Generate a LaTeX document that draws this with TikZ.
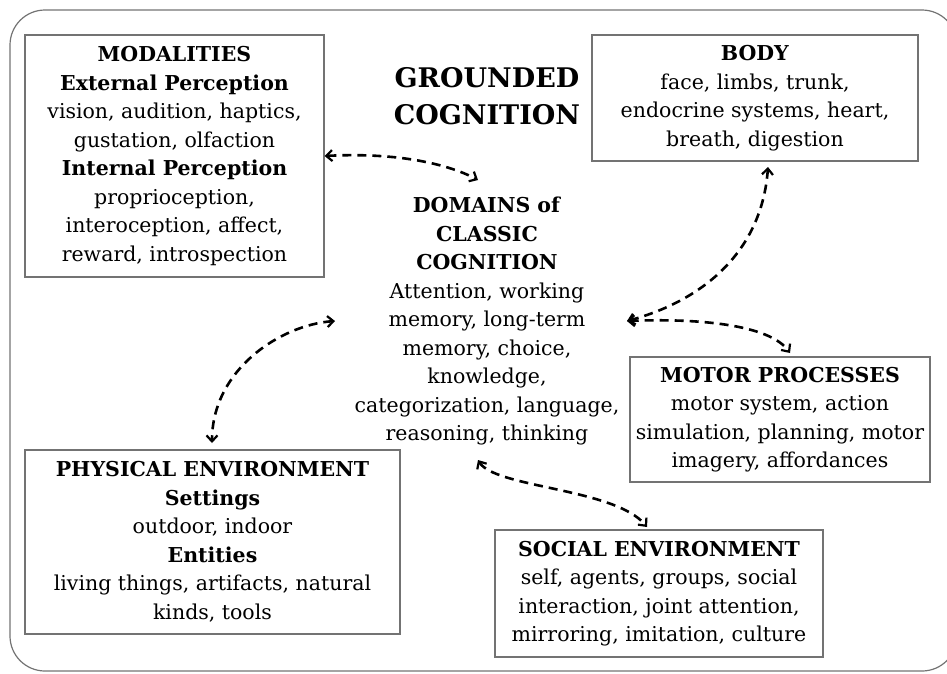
\documentclass[tikz,border=0pt]{standalone}
\usepackage{fontspec}
\setmainfont{DejaVu Serif}
\usetikzlibrary{arrows.meta}
\begin{document}
\begin{tikzpicture}[x=1pt,y=-1pt,
  frame/.style={draw=black!55, line width=1.2pt},
  box/.style={frame, align=center, inner sep=0pt, font=\fontsize{20.5}{28.5}\selectfont},
  txt/.style={align=center, inner sep=0pt, font=\fontsize{20.5}{28.5}\selectfont},
  conn/.style={<->, >={Straight Barb[length=6pt,width=11pt,line width=2.2pt]}, line width=2.6pt, dash pattern=on 9pt off 6pt},
  ]
\useasboundingbox (0,0) rectangle (947,673);
\begin{scope}
\clip (0,0) rectangle (947,673);
\draw[frame, rounded corners=35pt] (10,10) rectangle (957,671);
\end{scope}

\node[box, minimum width=299pt, minimum height=242pt] (mod) at (174.5,156)
 {\textbf{MODALITIES}\\ \textbf{External Perception}\\ vision, audition, haptics,\\ gustation, olfaction\\ \textbf{Internal Perception}\\ proprioception,\\ interoception, affect,\\ reward, introspection};

\node[txt, font=\bfseries\fontsize{27}{37}\selectfont] (title) at (487,96) {GROUNDED\\COGNITION};

\node[box, minimum width=326pt, minimum height=126pt] (body) at (755,98)
 {\textbf{BODY}\\ face, limbs, trunk,\\ endocrine systems, heart,\\ breath, digestion};

\node[txt] (dom) at (487,321)
 {\textbf{DOMAINS of}\\ \textbf{CLASSIC}\\ \textbf{COGNITION}\\ Attention, working\\ memory, long-term\\ memory, choice,\\ knowledge,\\ categorization, language,\\ reasoning, thinking};

\node[box, minimum width=300pt, minimum height=125pt] (motor) at (780,419.5)
 {\textbf{MOTOR PROCESSES}\\ motor system, action\\ simulation, planning, motor\\ imagery, affordances};

\node[box, minimum width=375pt, minimum height=184pt] (phys) at (212.5,542)
 {\textbf{PHYSICAL ENVIRONMENT}\\ \textbf{Settings}\\ outdoor, indoor\\ \textbf{Entities}\\ living things, artifacts, natural\\ kinds, tools};

\node[box, minimum width=328pt, minimum height=127pt] (soc) at (659,593.5)
 {\textbf{SOCIAL ENVIRONMENT}\\ self, agents, groups, social\\ interaction, joint attention,\\ mirroring, imitation, culture};

\coordinate (a1s) at (mod.east);
\coordinate (a1e) at (478,180);
\coordinate (a2s) at (768,167);
\coordinate (a2e) at (627,321);
\coordinate (a3e) at (790,353);
\coordinate (a4s) at (335,321);
\coordinate (a4e) at (212,443);
\coordinate (a5s) at (478,460);
\coordinate (a5e) at (647,527);

\draw[conn] (a1s) .. controls (400,152) and (450,165) .. (a1e);
\draw[conn] (a2s) .. controls (762,250) and (705,300) .. (a2e);
\draw[conn] (a2e) .. controls (700,318) and (770,325) .. (a3e);
\draw[conn] (a4s) .. controls (280,325) and (212,370) .. (a4e);
\draw[conn] (a5s) .. controls (495,488) and (615,488) .. (a5e);
\end{tikzpicture}
\end{document}
